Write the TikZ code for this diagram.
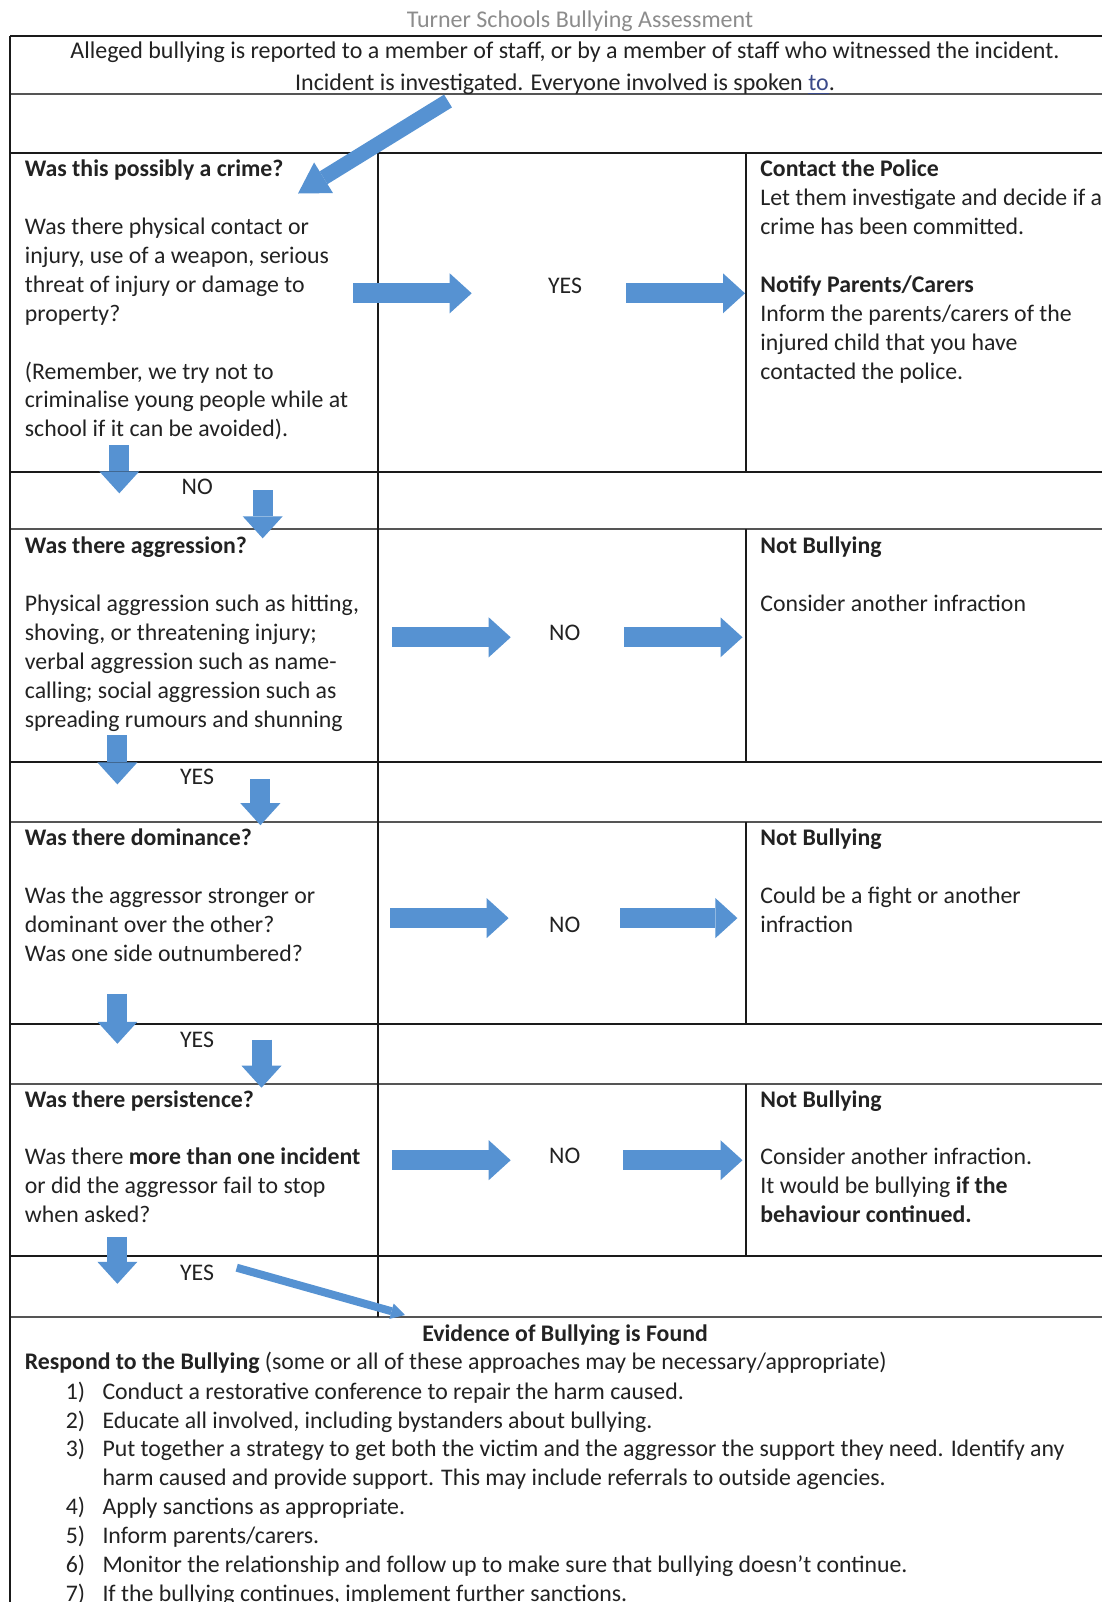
\documentclass[tikz,border=0pt]{standalone}
\usepackage{fontspec}
\setmainfont{Carlito}
\usetikzlibrary{arrows.meta}
\definecolor{arrow}{HTML}{5692D2}
\definecolor{ink}{HTML}{222222}
\definecolor{rule}{HTML}{1A1A1A}
\definecolor{dbl}{HTML}{555555}
\definecolor{caption}{HTML}{8C8C8C}
\definecolor{link}{HTML}{3B4A8A}

\begin{document}
\begin{tikzpicture}[x=.5pt,y=-.5pt,
  every node/.style={inner sep=0pt,text=ink,font=\fontsize{11.9}{14.45}\selectfont},
  cell/.style={anchor=north west,align=left},
  lbl/.style={anchor=center},
  grid/.style={draw=rule,line width=.75pt},
  heavy/.style={draw=dbl,line width=1.4pt},
  fat/.style={draw=arrow,line width=10pt,-{Triangle[length=11pt,width=20pt,line width=0pt]}},
  slant/.style={draw=arrow,line width=7.5pt,-{Triangle[length=15pt,width=18pt,line width=0pt]}},
  thin/.style={draw=arrow,line width=4pt,-{Triangle[length=7pt,width=8pt,line width=0pt]}}]
\useasboundingbox (0,0) rectangle (1102,1602);
\clip (0,0) rectangle (1102,1602);
\fill[white] (0,0) rectangle (1102,1602);
% table rules
\foreach \y in {36,153,472,762,1024,1256} \draw[grid] (10,\y) -- (1102,\y);
\foreach \y in {94,529,822,1084,1317} \draw[heavy] (10,\y) -- (1102,\y);
\draw[grid] (10,36) -- (10,1602);
\draw[grid] (378,153) -- (378,1317);
\draw[grid] (746,153) -- (746,472);\draw[grid] (746,529) -- (746,762);\draw[grid] (746,822) -- (746,1024);\draw[grid] (746,1084) -- (746,1256);
% heading
\node[anchor=base,text=caption,font=\fontsize{12}{14.45}\selectfont] (title) at (580,27.7){Turner Schools Bullying Assessment};
\node[anchor=north,align=center,font=\fontsize{12}{15.85}\selectfont] (hdr) at (565,36.1){\strut Alleged bullying is reported to a member of staff, or by a member of staff who witnessed the incident.\\Incident is investigated. Everyone involved is spoken {\color{link}\underline{to}}.};
% questions
\node[cell] (qcrime) at (24.5,156.1){\strut\textbf{Was this possibly a crime?}\\[14.45pt]Was there physical contact or\\injury, use of a weapon, serious\\threat of injury or damage to\\property?\\[14.45pt](Remember, we try not to\\criminalise young people while at\\school if it can be avoided).};
\node[cell] (qaggr) at (24.5,533){\strut\textbf{Was there aggression?}\\[14.45pt]Physical aggression such as hitting,\\shoving, or threatening injury;\\verbal aggression such as name-\\calling; social aggression such as\\spreading rumours and shunning};
\node[cell] (qdom) at (24.5,825.1){\strut\textbf{Was there dominance?}\\[14.45pt]Was the aggressor stronger or\\dominant over the other?\\Was one side outnumbered?};
\node[cell] (qpers) at (24.5,1086.5){\strut\textbf{Was there persistence?}\\[14.45pt]Was there \textbf{more than one incident}\\or did the aggressor fail to stop\\when asked?};
% outcomes
\node[cell] (police) at (760,156.1){\strut\textbf{Contact the Police}\\Let them investigate and decide if a\\crime has been committed.\\[14.45pt]\textbf{Notify Parents/Carers}\\Inform the parents/carers of the\\injured child that you have\\contacted the police.};
\node[cell] (nbaggr) at (760,533){\strut\textbf{Not Bullying}\\[14.45pt]Consider another infraction};
\node[cell] (nbdom) at (760,825.1){\strut\textbf{Not Bullying}\\[14.45pt]Could be a fight or another\\infraction};
\node[cell] (nbpers) at (760,1086.5){\strut\textbf{Not Bullying}\\[14.45pt]Consider another infraction.\\It would be bullying \textbf{if the}\\\textbf{behaviour continued.}};
% answers
\node[lbl] (yes1) at (565,285.7){YES};
\node[lbl] (no1) at (197.3,487.2){NO};
\node[lbl] (no2) at (564.8,633.2){NO};
\node[lbl] (yes2) at (197.1,777.2){YES};
\node[lbl] (no3) at (564.8,925.3){NO};
\node[lbl] (yes3) at (197.1,1039.7){YES};
\node[lbl] (no4) at (564.8,1156.1){NO};
\node[lbl] (yes4) at (197.1,1272.5){YES};
% response
\node[anchor=base,font=\fontsize{11.9}{14.45}\selectfont\bfseries] (found) at (565,1341){Evidence of Bullying is Found};
\node[anchor=base west] (respond) at (24.5,1369.8){\textbf{Respond to the Bullying} (some or all of these approaches may be necessary/appropriate)};
\node[cell] (nums) at (65.4,1378.5){\strut 1)\\2)\\3)\\[14.45pt]4)\\5)\\6)\\7)};
\node[cell] (steps) at (102.1,1378.5){\strut Conduct a restorative conference to repair the harm caused.\\Educate all involved, including bystanders about bullying.\\Put together a strategy to get both the victim and the aggressor the support they need. Identify any\\harm caused and provide support. This may include referrals to outside agencies.\\Apply sanctions as appropriate.\\Inform parents/carers.\\Monitor the relationship and follow up to make sure that bullying doesn't continue.\\If the bullying continues, implement further sanctions.};
% arrow ends
\coordinate (in0) at (448,101);\coordinate (in1) at (298,193.5);
\coordinate (c1) at (353.3,293.3);\coordinate (c2) at (471.7,293.3);\coordinate (c3) at (626,293.3);\coordinate (c4) at (745,293.3);
\coordinate (c5) at (119.3,445);\coordinate (c6) at (119.3,493.3);\coordinate (c7) at (262.7,490);\coordinate (c8) at (262.7,538.3);
\coordinate (a1) at (392.2,637.3);\coordinate (a2) at (510.7,637.3);\coordinate (a3) at (624,637.3);\coordinate (a4) at (742.5,637.3);
\coordinate (a5) at (117.4,735.3);\coordinate (a6) at (117.4,784.4);\coordinate (a7) at (260.4,779.3);\coordinate (a8) at (260.4,825.2);
\coordinate (d1) at (390.1,918.1);\coordinate (d2) at (508.6,918.1);\coordinate (d3) at (620,918.1);\coordinate (d4) at (737.4,918.1);
\coordinate (d5) at (117.4,993.7);\coordinate (d6) at (117.4,1043.8);\coordinate (d7) at (261.5,1039.7);\coordinate (d8) at (261.5,1087.7);
\coordinate (p1) at (392.2,1160.2);\coordinate (p2) at (510.7,1160.2);\coordinate (p3) at (623,1160.2);\coordinate (p4) at (742.5,1160.2);
\coordinate (p5) at (117.4,1236.8);\coordinate (p6) at (117.4,1283.8);\coordinate (out0) at (236.7,1267.7);\coordinate (out1) at (405,1315);
% arrows
\draw[slant] (in0)--(in1);
\draw[fat] (c1)--(c2);\draw[fat] (c3)--(c4);\draw[fat] (c5)--(c6);\draw[fat] (c7)--(c8);
\draw[fat] (a1)--(a2);\draw[fat] (a3)--(a4);\draw[fat] (a5)--(a6);\draw[fat] (a7)--(a8);
\draw[fat] (d1)--(d2);\draw[fat] (d3)--(d4);\draw[fat] (d5)--(d6);\draw[fat] (d7)--(d8);
\draw[fat] (p1)--(p2);\draw[fat] (p3)--(p4);\draw[fat] (p5)--(p6);
\draw[thin] (out0)--(out1);
\end{tikzpicture}
\end{document}
